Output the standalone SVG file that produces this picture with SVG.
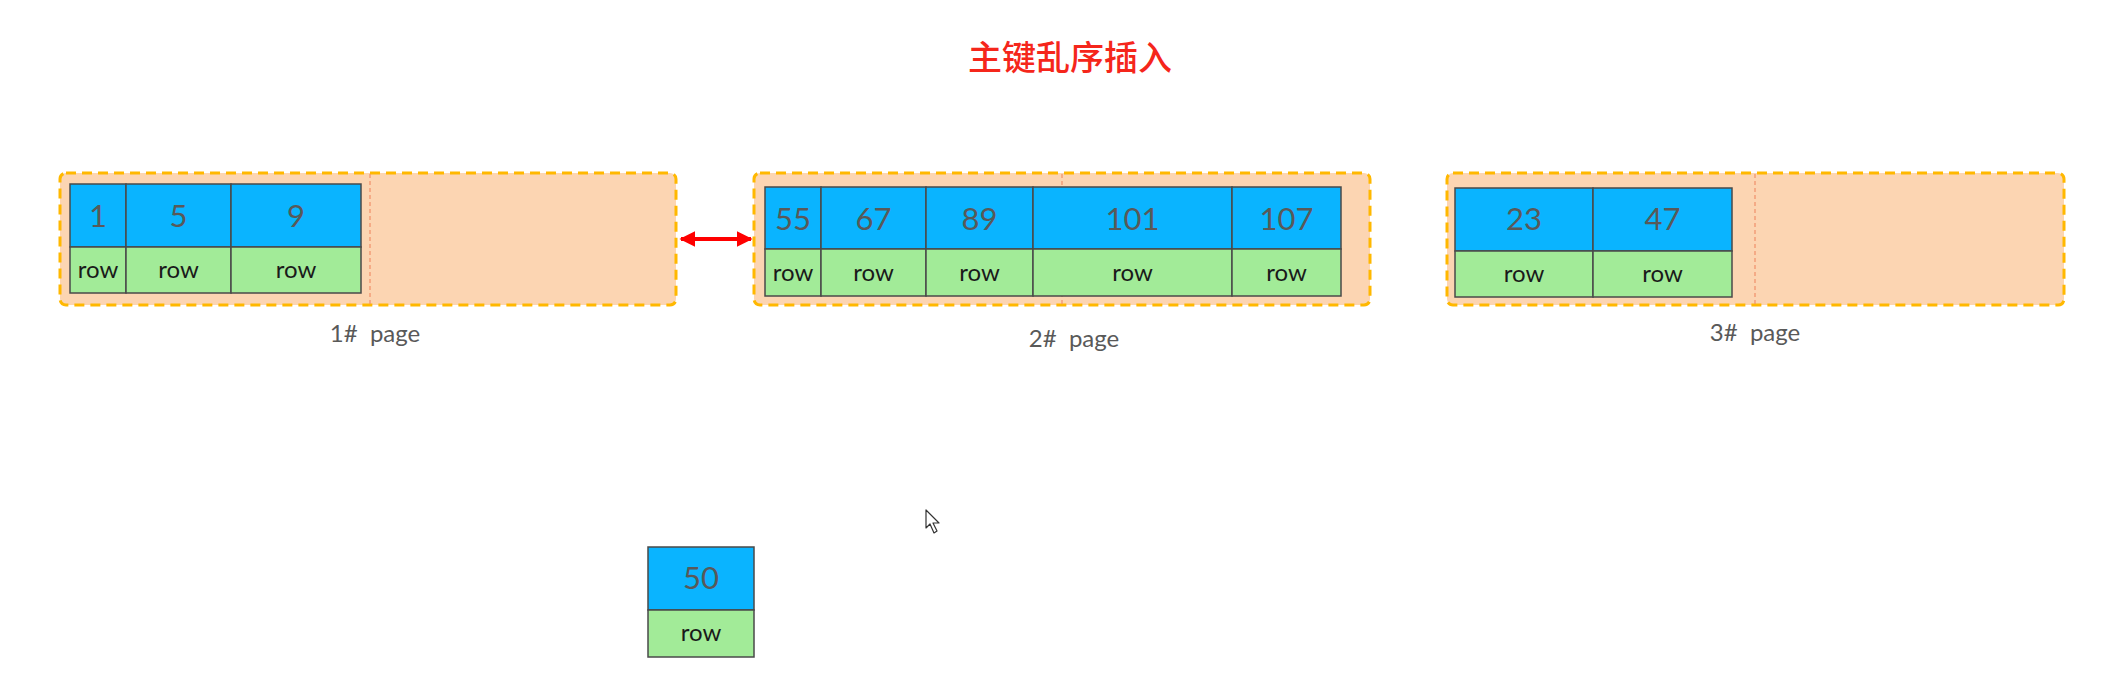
<svg xmlns="http://www.w3.org/2000/svg" width="2104" height="693" viewBox="0 0 2104 693">
<style>
.page{fill:#FCD5B2;stroke:#FFB800;stroke-width:3;stroke-dasharray:10 6}
.split{stroke:#F0906A;stroke-width:1.2;stroke-dasharray:4 3}
.key{fill:#0AB4FF;stroke:#4A4A4A;stroke-width:1.5}
.row{fill:#A2EB98;stroke:#4A4A4A;stroke-width:1.5}
.num{font-family:Lato,"Liberation Sans",sans-serif;font-size:31px;fill:#595959;text-anchor:middle}
.rt{font-family:Lato,"Liberation Sans",sans-serif;font-size:24px;fill:#1A1A1A;text-anchor:middle}
.lbl{font-family:Lato,"Liberation Sans",sans-serif;font-size:24px;fill:#595959;text-anchor:middle;white-space:pre}
.title{font-family:"Noto Sans CJK SC",sans-serif;font-size:34px;font-weight:500;fill:#F5261B;text-anchor:middle}
</style>
<defs>
<marker id="ah" viewBox="0 0 10 10" refX="9" refY="5" markerWidth="4" markerHeight="4" orient="auto-start-reverse">
<path d="M0,0 L10,5 L0,10 z" fill="#FF0000"/>
</marker>
</defs>
<rect width="2104" height="693" fill="#FFFFFF"/>
<text id="title" class="title" x="1070" y="70">主键乱序插入</text>

<g id="page1">
<rect class="page" x="60" y="173" width="616" height="132" rx="6"/>
<line class="split" x1="370" y1="174" x2="370" y2="304"/>
<rect class="key" x="70" y="184" width="56" height="63"/>
<rect class="key" x="126" y="184" width="105" height="63"/>
<rect class="key" x="231" y="184" width="130" height="63"/>
<rect class="row" x="70" y="247" width="56" height="46"/>
<rect class="row" x="126" y="247" width="105" height="46"/>
<rect class="row" x="231" y="247" width="130" height="46"/>
<text class="num" x="98" y="227">1</text>
<text class="num" x="178.5" y="227">5</text>
<text class="num" x="296" y="227">9</text>
<text class="rt" x="98" y="278">row</text>
<text class="rt" x="178.5" y="278">row</text>
<text class="rt" x="296" y="278">row</text>
<text class="lbl" x="375" y="342">1#  page</text>
</g>

<g id="page2">
<rect class="page" x="754" y="173" width="616" height="132" rx="6"/>
<line class="split" x1="1062" y1="174" x2="1062" y2="304"/>
<rect class="key" x="765" y="187" width="56" height="62"/>
<rect class="key" x="821" y="187" width="105" height="62"/>
<rect class="key" x="926" y="187" width="107" height="62"/>
<rect class="key" x="1033" y="187" width="199" height="62"/>
<rect class="key" x="1232" y="187" width="109" height="62"/>
<rect class="row" x="765" y="249" width="56" height="47"/>
<rect class="row" x="821" y="249" width="105" height="47"/>
<rect class="row" x="926" y="249" width="107" height="47"/>
<rect class="row" x="1033" y="249" width="199" height="47"/>
<rect class="row" x="1232" y="249" width="109" height="47"/>
<text class="num" x="793" y="230">55</text>
<text class="num" x="873.5" y="230">67</text>
<text class="num" x="979.5" y="230">89</text>
<text class="num" x="1132.5" y="230">101</text>
<text class="num" x="1286.5" y="230">107</text>
<text class="rt" x="793" y="281">row</text>
<text class="rt" x="873.5" y="281">row</text>
<text class="rt" x="979.5" y="281">row</text>
<text class="rt" x="1132.5" y="281">row</text>
<text class="rt" x="1286.5" y="281">row</text>
<text class="lbl" x="1074" y="347">2#  page</text>
</g>

<g id="page3">
<rect class="page" x="1447" y="173" width="617" height="132" rx="6"/>
<line class="split" x1="1755" y1="174" x2="1755" y2="304"/>
<rect class="key" x="1455" y="188" width="138" height="63"/>
<rect class="key" x="1593" y="188" width="139" height="63"/>
<rect class="row" x="1455" y="251" width="138" height="46"/>
<rect class="row" x="1593" y="251" width="139" height="46"/>
<text class="num" x="1524" y="230">23</text>
<text class="num" x="1662.5" y="230">47</text>
<text class="rt" x="1524" y="282">row</text>
<text class="rt" x="1662.5" y="282">row</text>
<text class="lbl" x="1755" y="341">3#  page</text>
</g>

<g id="record50">
<rect class="key" x="648" y="547" width="106" height="63"/>
<rect class="row" x="648" y="610" width="106" height="47"/>
<text class="num" x="701" y="589">50</text>
<text class="rt" x="701" y="641">row</text>
</g>

<g id="connectors">
<line x1="681" y1="239" x2="751" y2="239" stroke="#FF0000" stroke-width="4" marker-start="url(#ah)" marker-end="url(#ah)"/>
</g>

<path id="cursor" d="M926,510 L926,528 L930,524 L934,533 L937,531 L933,523 L939,523 Z" fill="#FFFFFF" stroke="#333333" stroke-width="1.2" stroke-linejoin="round"/>
</svg>
